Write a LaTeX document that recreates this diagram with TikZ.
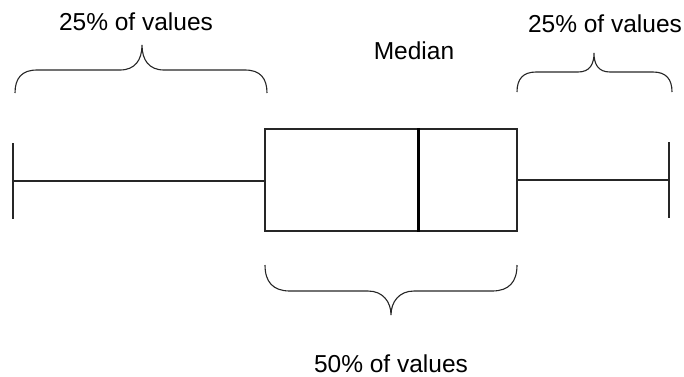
\documentclass[tikz,border=0pt]{standalone}
\usepackage{fontspec}
\setmainfont{Liberation Sans}
\begin{document}
\begin{tikzpicture}[x=1pt,y=-1pt,
  thinline/.style={line width=1.1pt,draw=black!85},
  label/.style={anchor=base,inner sep=0pt,font=\fontsize{24.5}{29}\selectfont},
  brace/.style={line width=1.1pt,draw=black!85}]
\useasboundingbox (0,0) rectangle (684,376);

% box (interquartile range)
\node[draw=black!85,line width=1.1pt,minimum width=252pt,minimum height=102pt,inner sep=0pt] (box) at (391,180) {};
% median line
\coordinate (mtop) at (418,128);
\coordinate (mbot) at (418,232);
\draw[line width=3pt] (mtop) -- (mbot);

% whiskers
\coordinate (lw) at (13,181);
\coordinate (lwt) at (13,143);
\coordinate (lwb) at (13,219);
\coordinate (rw) at (669,180);
\coordinate (rwt) at (669,142);
\coordinate (rwb) at (669,218);
\draw[thinline] (box.west |- lw) -- (lw);
\draw[thinline] (lwt) -- (lwb);
\draw[thinline] (box.east |- rw) -- (rw);
\draw[thinline] (rwt) -- (rwb);

% braces
\draw[brace] (15,93) .. controls (15,78) and (22,70) .. (37,70) -- (120,70)
  .. controls (135,70) and (142,60) .. (142,45)
  .. controls (142,60) and (149,70) .. (164,70) -- (245,70)
  .. controls (260,70) and (267,78) .. (267,93);
\draw[brace] (517,92) .. controls (517,79) and (523,72) .. (536,72) -- (578,72)
  .. controls (590,72) and (594,64) .. (594,53)
  .. controls (594,64) and (598,72) .. (610,72) -- (653,72)
  .. controls (666,72) and (672,79) .. (672,92);
\draw[brace] (265,265) .. controls (265,282) and (273,291) .. (290,291) -- (368,291)
  .. controls (383,291) and (391,302) .. (391,315)
  .. controls (391,302) and (399,291) .. (414,291) -- (492,291)
  .. controls (509,291) and (517,282) .. (517,265);

% labels
\node[label] (tl) at (136,30) {25\% of values};
\node[label] (med) at (414,59) {Median};
\node[label] (tr) at (605,32) {25\% of values};
\node[label] (bt) at (391,372) {50\% of values};
\end{tikzpicture}
\end{document}
